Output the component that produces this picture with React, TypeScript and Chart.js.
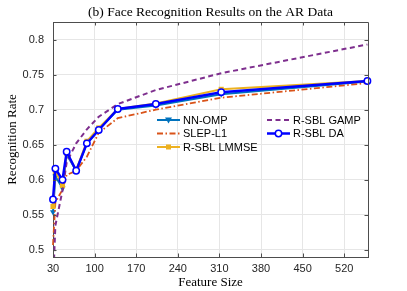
import React, { useEffect, useRef } from "react";
import { Chart, registerables } from "chart.js";

Chart.register(...registerables);

const featureSizes = [30, 34, 46, 53, 69, 87, 107, 139, 203, 313, 559];
const nnOmp = [0.554, 0.605, 0.588, 0.636, 0.613, 0.652, 0.672, 0.7, 0.706, 0.722, 0.74];
const slepL1 = [0.507, 0.568, 0.586, 0.607, 0.613, 0.633, 0.667, 0.688, 0.7, 0.717, 0.738];
const rsblLmmse = [0.562, 0.612, 0.592, 0.638, 0.614, 0.655, 0.674, 0.701, 0.709, 0.729, 0.741];
const rsblGamp = [0.45, 0.535, 0.585, 0.625, 0.652, 0.672, 0.69, 0.708, 0.728, 0.752, 0.793];
const rsblDa = [0.572, 0.616, 0.6, 0.64, 0.613, 0.652, 0.671, 0.701, 0.708, 0.725, 0.741];

const xTicks = [30, 100, 170, 240, 310, 380, 450, 520];
const yTicks = [0.5, 0.55, 0.6, 0.65, 0.7, 0.75, 0.8];

const titleText = "(b) Face Recognition Results on the AR Data";
const xLabel = "Feature Size";
const yLabel = "Recognition Rate";

const C_OMP = "#0072BD";
const C_SLEP = "#D95319";
const C_LMMSE = "#EDB120";
const C_GAMP = "#7E2F8E";
const C_DA = "#0000FF";

const pts = (ys: number[]) => featureSizes.map((x, i) => ({ x, y: ys[i] }));

type LegendItem = {
  label: string;
  color: string;
  dash: number[];
  width: number;
  marker: string | null;
  fill: string;
};

const legendCol1: LegendItem[] = [
  { label: "NN-OMP", color: C_OMP, dash: [], width: 2, marker: "tri", fill: C_OMP },
  { label: "SLEP-L1", color: C_SLEP, dash: [6, 2.5, 1.5, 2.5], width: 1.8, marker: null, fill: C_SLEP },
  { label: "R-SBL LMMSE", color: C_LMMSE, dash: [], width: 2, marker: "sq", fill: C_LMMSE },
];
const legendCol2: LegendItem[] = [
  { label: "R-SBL GAMP", color: C_GAMP, dash: [5, 3.5], width: 2, marker: null, fill: C_GAMP },
  { label: "R-SBL DA", color: C_DA, dash: [], width: 2.5, marker: "circ", fill: "#ffffff" },
];

function drawMarker(ctx: CanvasRenderingContext2D, kind: string, x: number, y: number, color: string, fill: string) {
  ctx.save();
  ctx.setLineDash([]);
  ctx.fillStyle = fill;
  ctx.strokeStyle = color;
  ctx.lineWidth = 1.5;
  ctx.beginPath();
  if (kind === "tri") {
    ctx.moveTo(x - 3.5, y - 2.5);
    ctx.lineTo(x + 3.5, y - 2.5);
    ctx.lineTo(x, y + 3.5);
    ctx.closePath();
    ctx.fill();
  } else if (kind === "sq") {
    ctx.rect(x - 2.5, y - 2.5, 5, 5);
    ctx.fill();
  } else if (kind === "circ") {
    ctx.arc(x, y, 3.2, 0, Math.PI * 2);
    ctx.fill();
    ctx.stroke();
  }
  ctx.restore();
}

const decorPlugin = {
  id: "decor",
  afterDatasetsDraw(chart: any) {
    const ctx: CanvasRenderingContext2D = chart.ctx;
    const { left, right, top, bottom } = chart.chartArea;
    const xs = chart.scales.x;
    const ys = chart.scales.y;
    ctx.save();
    ctx.strokeStyle = "#4d4d4d";
    ctx.lineWidth = 1;
    ctx.setLineDash([]);
    ctx.beginPath();
    ctx.moveTo(left, top + 0.5);
    ctx.lineTo(right + 0.5, top + 0.5);
    ctx.lineTo(right + 0.5, bottom);
    ctx.stroke();
    ctx.beginPath();
    for (const t of xTicks) {
      const px = Math.round(xs.getPixelForValue(t)) + 0.5;
      ctx.moveTo(px, bottom);
      ctx.lineTo(px, bottom - 3.5);
      ctx.moveTo(px, top);
      ctx.lineTo(px, top + 3.5);
    }
    for (const t of yTicks) {
      const py = Math.round(ys.getPixelForValue(t)) + 0.5;
      ctx.moveTo(left, py);
      ctx.lineTo(left + 3.5, py);
      ctx.moveTo(right, py);
      ctx.lineTo(right - 3.5, py);
    }
    ctx.stroke();

    const rows = [120, 133.5, 147];
    const drawCol = (items: LegendItem[], x0: number) => {
      items.forEach((it, i) => {
        const y = rows[i];
        ctx.save();
        ctx.strokeStyle = it.color;
        ctx.lineWidth = it.width;
        ctx.setLineDash(it.dash);
        ctx.beginPath();
        ctx.moveTo(x0, y);
        ctx.lineTo(x0 + 23, y);
        ctx.stroke();
        ctx.restore();
        if (it.marker) drawMarker(ctx, it.marker, x0 + 11.5, y, it.color, it.fill);
        ctx.fillStyle = "#000000";
        ctx.font = "11px 'Liberation Sans', Arial, sans-serif";
        ctx.textAlign = "left";
        ctx.textBaseline = "middle";
        ctx.fillText(it.label, x0 + 26, y + 0.5);
      });
    };
    drawCol(legendCol1, 157);
    drawCol(legendCol2, 267);
    ctx.restore();
  },
  afterDraw(chart: any) {
    const ctx: CanvasRenderingContext2D = chart.ctx;
    const { left, right, top, bottom } = chart.chartArea;
    ctx.save();
    ctx.fillStyle = "#000000";
    ctx.textAlign = "center";
    ctx.textBaseline = "middle";
    ctx.font = "13.5px 'Liberation Serif', 'Times New Roman', serif";
    ctx.fillText(titleText, (left + right) / 2, 12);
    ctx.font = "13px 'Liberation Serif', 'Times New Roman', serif";
    ctx.fillText(xLabel, (left + right) / 2, 283);
    ctx.translate(13, (top + bottom) / 2);
    ctx.rotate(-Math.PI / 2);
    ctx.fillText(yLabel, 0, 0);
    ctx.restore();
  },
};

export default function App() {
  const ref = useRef<HTMLCanvasElement | null>(null);
  useEffect(() => {
    document.body.style.margin = "0";
    const canvas = ref.current;
    if (!canvas) return;
    const tickFont = { family: "'Liberation Sans', Arial, sans-serif", size: 11 };
    const chart = new Chart(canvas, {
      type: "line",
      data: {
        datasets: [
          {
            label: "NN-OMP",
            data: pts(nnOmp),
            borderColor: C_OMP,
            backgroundColor: C_OMP,
            borderWidth: 2,
            pointStyle: "triangle",
            pointRotation: 180,
            pointRadius: 3.5,
            pointBorderWidth: 0,
            pointBackgroundColor: C_OMP,
            order: 5,
            clip: false,
          },
          {
            label: "SLEP-L1",
            data: pts(slepL1),
            borderColor: C_SLEP,
            backgroundColor: C_SLEP,
            borderWidth: 1.8,
            borderDash: [6, 2.5, 1.5, 2.5],
            pointRadius: 0,
            order: 4,
            clip: false,
          },
          {
            label: "R-SBL LMMSE",
            data: pts(rsblLmmse),
            borderColor: C_LMMSE,
            backgroundColor: C_LMMSE,
            borderWidth: 2,
            pointStyle: "rect",
            pointRadius: 3.6,
            pointBorderWidth: 0,
            pointBackgroundColor: C_LMMSE,
            order: 3,
            clip: false,
          },
          {
            label: "R-SBL GAMP",
            data: pts(rsblGamp),
            borderColor: C_GAMP,
            backgroundColor: C_GAMP,
            borderWidth: 2,
            borderDash: [5, 3.5],
            pointRadius: 0,
            order: 2,
            clip: { left: 5, right: 5, top: 5, bottom: 0 },
          },
          {
            label: "R-SBL DA",
            data: pts(rsblDa),
            borderColor: C_DA,
            backgroundColor: "#ffffff",
            borderWidth: 2.5,
            pointStyle: "circle",
            pointRadius: 3.2,
            pointBorderWidth: 1.5,
            pointBorderColor: C_DA,
            pointBackgroundColor: "#ffffff",
            order: 1,
            clip: false,
          },
        ] as any,
      },
      options: {
        responsive: false,
        animation: false,
        events: [],
        layout: { padding: { top: 22, right: 39, left: 0, bottom: 0 } },
        plugins: {
          legend: { display: false },
          title: { display: false },
          tooltip: { enabled: false },
        },
        elements: { line: { tension: 0 } },
        scales: {
          x: {
            type: "linear",
            min: 30,
            max: 560,
            afterBuildTicks: (scale: any) => {
              scale.ticks = xTicks.map((v) => ({ value: v }));
            },
            afterFit: (scale: any) => {
              scale.height = 34;
            },
            ticks: {
              autoSkip: false,
              maxRotation: 0,
              padding: 5,
              color: "#262626",
              font: tickFont,
              callback: (v: any) => String(v),
            },
            grid: { color: "#e6e6e6", lineWidth: 1, drawTicks: false },
            border: { display: true, color: "#4d4d4d", width: 1 },
          },
          y: {
            type: "linear",
            min: 0.49,
            max: 0.825,
            afterBuildTicks: (scale: any) => {
              scale.ticks = yTicks.map((v) => ({ value: v }));
            },
            afterFit: (scale: any) => {
              scale.width = 53;
            },
            ticks: {
              autoSkip: false,
              padding: 9,
              color: "#262626",
              font: tickFont,
              callback: (v: any) => String(Math.round(v * 100) / 100),
            },
            grid: { color: "#e6e6e6", lineWidth: 1, drawTicks: false },
            border: { display: true, color: "#4d4d4d", width: 1 },
          },
        },
      } as any,
      plugins: [decorPlugin],
    });
    return () => chart.destroy();
  }, []);
  return <canvas ref={ref} width={407} height={291} style={{ display: "block" }} />;
}
